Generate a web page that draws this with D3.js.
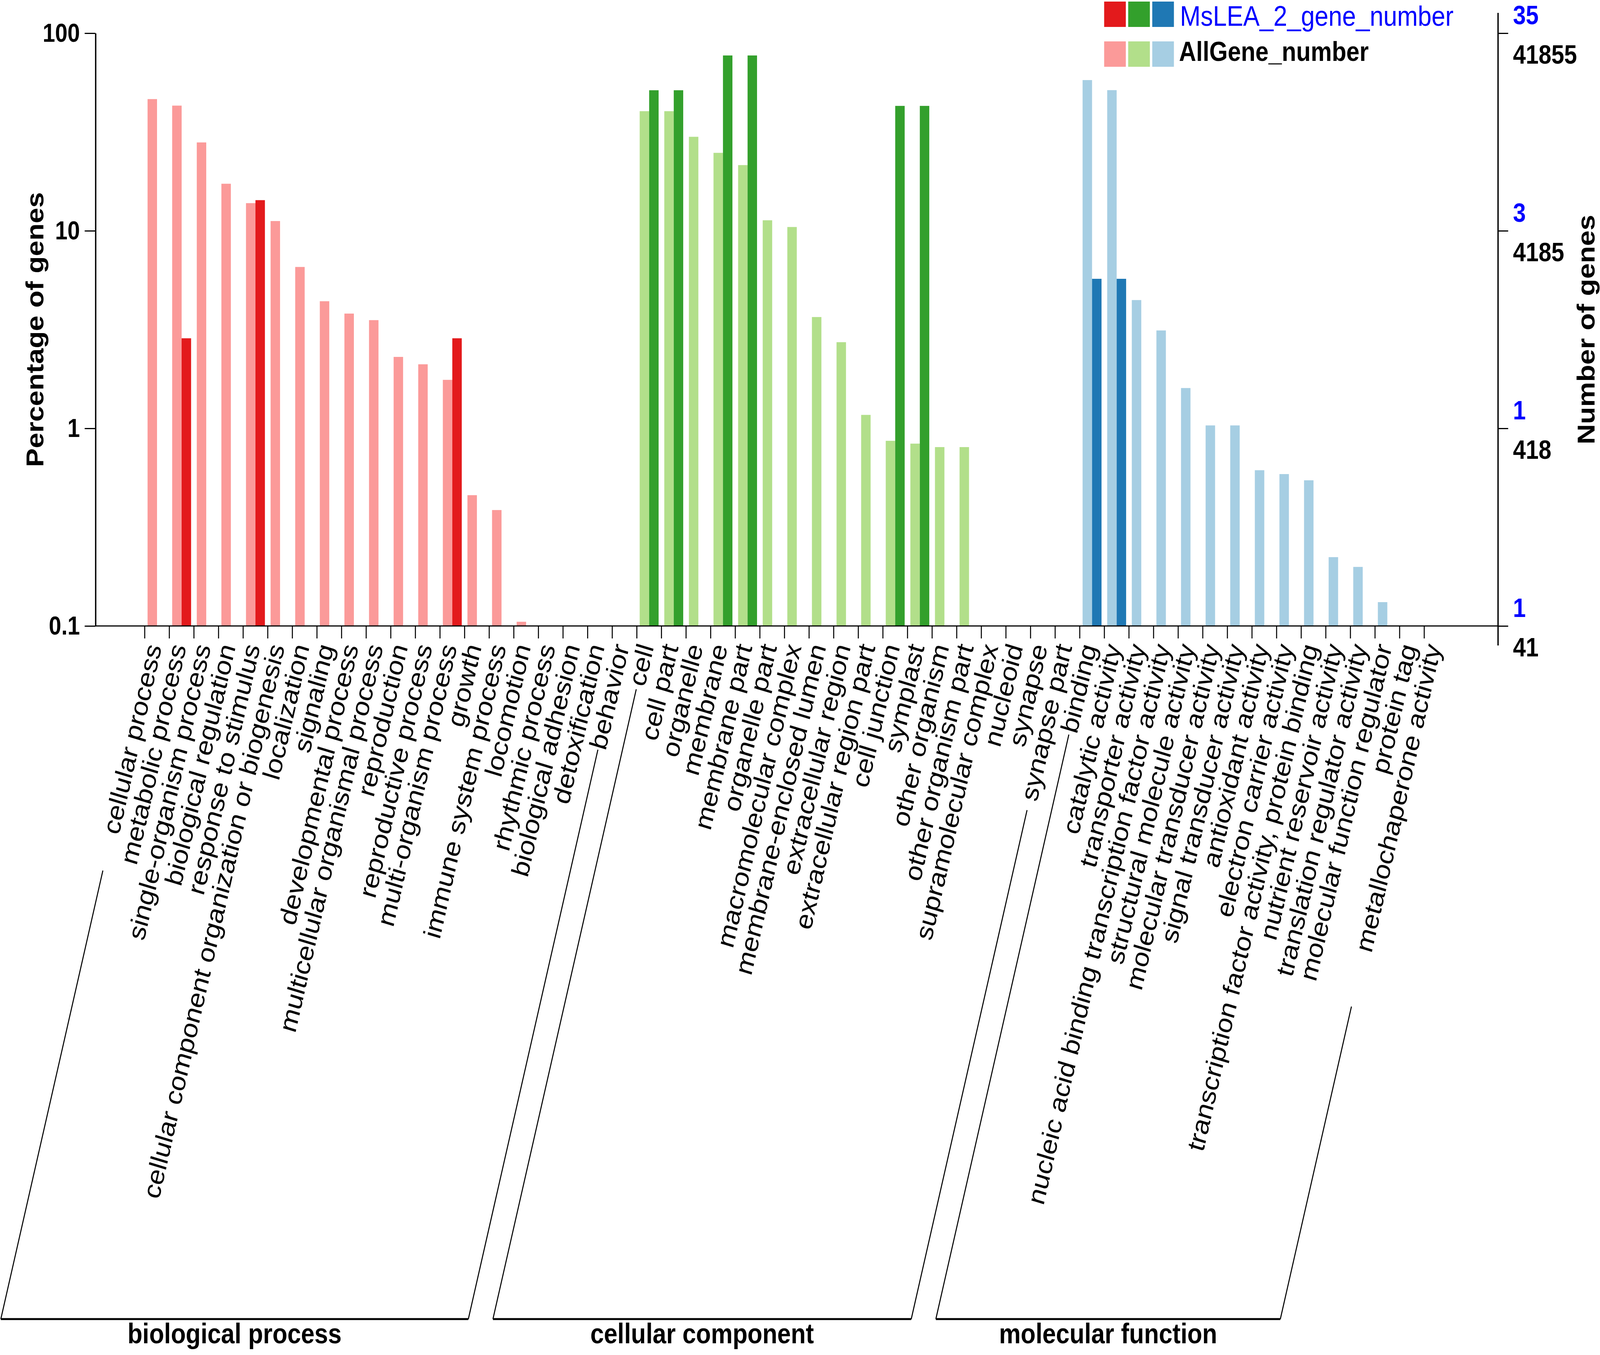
<!DOCTYPE html>
<html>
<head>
<meta charset="utf-8">
<script src="https://d3js.org/d3.v7.min.js"></script>
<style>
html, body { margin: 0; padding: 0; width: 100%; height: 100%; overflow: hidden; background: #fff; }
svg { display: block; }
text { font-family: "Liberation Sans", Arial, sans-serif; }
</style>
</head>
<body>
<svg id="chart" viewBox="0 0 4724 3470" preserveAspectRatio="none"></svg>
<script>
// GO terms, three ontologies
var bpTerms = ['cellular process', 'metabolic process', 'single-organism process', 'biological regulation',
    'response to stimulus', 'cellular component organization or biogenesis', 'localization', 'signaling',
    'developmental process', 'multicellular organismal process', 'reproduction', 'reproductive process',
    'multi-organism process', 'growth', 'immune system process', 'locomotion', 'rhythmic process',
    'biological adhesion', 'detoxification', 'behavior'];
var ccTerms = ['cell', 'cell part', 'organelle', 'membrane', 'membrane part', 'organelle part',
    'macromolecular complex', 'membrane-enclosed lumen', 'extracellular region', 'extracellular region part',
    'cell junction', 'symplast', 'other organism', 'other organism part', 'supramolecular complex',
    'nucleoid', 'synapse', 'synapse part'];
var mfTerms = ['binding', 'catalytic activity', 'transporter activity',
    'nucleic acid binding transcription factor activity', 'structural molecule activity',
    'molecular transducer activity', 'signal transducer activity', 'antioxidant activity',
    'electron carrier activity', 'transcription factor activity, protein binding',
    'nutrient reservoir activity', 'translation regulator activity', 'molecular function regulator',
    'protein tag', 'metallochaperone activity'];

// percentage of genes (0 = no bar)
var bpAll = [46.4, 43.0, 28.0, 17.3, 13.8, 11.2, 6.56, 4.40, 3.81, 3.53, 2.30, 2.11, 1.76, 0.459, 0.386, 0.105, 0, 0, 0, 0];
var bpLea = [0, 2.857, 0, 0, 14.29, 0, 0, 0, 0, 0, 0, 0, 2.857, 0, 0, 0, 0, 0, 0, 0];
var ccAll = [40.3, 40.3, 29.9, 24.8, 21.5, 11.3, 10.45, 3.66, 2.73, 1.17, 0.865, 0.837, 0.804, 0.804, 0, 0, 0, 0];
var ccLea = [51.43, 51.43, 0, 77.14, 77.14, 0, 0, 0, 0, 0, 42.86, 42.86, 0, 0, 0, 0, 0, 0];
var mfAll = [57.9, 51.5, 4.46, 3.13, 1.60, 1.035, 1.035, 0.614, 0.587, 0.546, 0.223, 0.199, 0.132, 0, 0];
var mfLea = [5.714, 5.714, 0, 0, 0, 0, 0, 0, 0, 0, 0, 0, 0, 0, 0];

var groupNames = ['biological process', 'cellular component', 'molecular function'];
var allColors = ['#fb9a99', '#b2df8a', '#a6cee3'];
var leaColors = ['#e31a1c', '#33a02c', '#1f78b4'];

var yTicks = [0.1, 1, 10, 100];
var leaTickLabels = ['1', '1', '3', '35'];
var allTickLabels = ['41', '418', '4185', '41855'];

// the window may be narrower than the chart, so stretch the viewBox over it
var svg = d3.select('#chart')
    .attr('width', window.innerWidth)
    .attr('height', window.innerHeight);
var plot = {l: 282, r: 4423, t: 85, b: 1603};

var groupTerms = [bpTerms, ccTerms, mfTerms];
var groupAll = [bpAll, ccAll, mfAll];
var groupLea = [bpLea, ccLea, mfLea];

var rows = [];
groupTerms.forEach(function(list, g) {
    list.forEach(function(t, i) {
        rows.push({term: t, group: g, all: groupAll[g][i], lea: groupLea[g][i]});
    });
});

var x = d3.scaleBand().domain(rows.map(function(d) { return d.term; }))
    .range([plot.l, plot.r]).paddingOuter(2);
var x1 = d3.scaleBand().domain(['all', 'lea']).range([0, x.bandwidth()]).paddingOuter(0.3);
var y = d3.scaleLog().domain([0.1, 100]).range([plot.b, plot.t]);

// bars
var barG = svg.append('g');
rows.forEach(function(d) {
    if (d.all > 0) {
        barG.append('rect')
            .attr('x', x(d.term) + x1('all'))
            .attr('y', y(d.all))
            .attr('width', x1.bandwidth())
            .attr('height', plot.b - y(d.all))
            .style('fill', allColors[d.group]);
    }
    if (d.lea > 0) {
        barG.append('rect')
            .attr('x', x(d.term) + x1('lea'))
            .attr('y', y(d.lea))
            .attr('width', x1.bandwidth())
            .attr('height', plot.b - y(d.lea))
            .style('fill', leaColors[d.group]);
    }
});

// left axis
var yAxis = d3.axisLeft(y).tickValues(yTicks).tickFormat(d3.format('~g'))
    .tickSize(32).tickSizeOuter(0).tickPadding(14);
var gl = svg.append('g').attr('transform', 'translate(' + plot.l + ',0)').call(yAxis);
gl.select('.domain').style('stroke-width', 4);
gl.selectAll('.tick line').style('stroke-width', 3);
gl.selectAll('.tick text').style('font-size', '66px').style('font-weight', 'bold')
    .style('font-family', '"Liberation Sans", Arial, sans-serif').attr('fill', '#000');

// right axis, two counts per tick
var yAxisR = d3.axisRight(y).tickValues(yTicks).tickFormat('').tickSize(30).tickSizeOuter(0);
var gr = svg.append('g').attr('transform', 'translate(' + plot.r + ',0)').call(yAxisR);
gr.select('.domain').attr('d', 'M0,' + (plot.t - 52) + 'V' + (plot.b + 50)).style('stroke-width', 4);
gr.selectAll('.tick line').style('stroke-width', 3);
gr.selectAll('.tick').each(function(v, i) {
    var t = d3.select(this);
    t.append('text').attr('x', 44).attr('y', -24).text(leaTickLabels[i])
        .style('font-size', '68px').style('font-weight', 'bold').attr('fill', '#0000ff');
    t.append('text').attr('x', 44).attr('y', 78).text(allTickLabels[i])
        .style('font-size', '68px').style('font-weight', 'bold').attr('fill', '#000');
});

// bottom axis
svg.append('line').attr('x1', plot.l).attr('x2', plot.r).attr('y1', plot.b).attr('y2', plot.b)
    .style('stroke', '#000').style('stroke-width', 3);
svg.append('g').selectAll('line').data(rows).enter().append('line')
    .attr('x1', function(d) { return x(d.term); })
    .attr('x2', function(d) { return x(d.term); })
    .attr('y1', plot.b).attr('y2', plot.b + 32)
    .style('stroke', '#000').style('stroke-width', 3);

// slanted category labels
var ang = 75.3 * Math.PI / 180;
var dir = [-Math.cos(ang), Math.sin(ang)];
var origY = plot.b + 17;
function along(d, t) {
    var cx = x(d.term) + x.bandwidth() / 2;
    return [cx + dir[0] * t, origY + dir[1] * t];
}
svg.append('g').selectAll('text').data(rows).enter().append('text')
    .attr('transform', function(d) { return 'translate(' + along(d, 32) + ') rotate(-75.3)'; })
    .attr('text-anchor', 'end')
    .attr('dy', '0.32em')
    .style('font-size', '72px')
    .text(function(d) { return d.term; });

// group brackets
var bottomY = 3378;
var tBottom = (bottomY - origY) / dir[1];
groupTerms.forEach(function(list, g) {
    var first = rows.filter(function(d) { return d.term === list[0]; })[0];
    var last = rows.filter(function(d) { return d.term === list[list.length - 1]; })[0];
    var a0 = along(first, 40 * first.term.length - 10), a1 = along(first, tBottom);
    var b0 = along(last, 40 * last.term.length - 10), b1 = along(last, tBottom);
    var br = svg.append('g').style('stroke', '#000').style('fill', 'none');
    br.append('line').attr('x1', a0[0]).attr('y1', a0[1]).attr('x2', a1[0]).attr('y2', a1[1]).style('stroke-width', 3);
    br.append('line').attr('x1', b0[0]).attr('y1', b0[1]).attr('x2', b1[0]).attr('y2', b1[1]).style('stroke-width', 3);
    br.append('line').attr('x1', a1[0]).attr('y1', bottomY).attr('x2', b1[0]).attr('y2', bottomY).style('stroke-width', 5);
    svg.append('text').attr('x', (a1[0] + b1[0]) / 2).attr('y', bottomY + 62)
        .attr('text-anchor', 'middle').style('font-size', '72px').style('font-weight', 'bold')
        .text(groupNames[g]);
});

// axis titles
svg.append('text').attr('transform', 'translate(103,' + (plot.t + plot.b) / 2 + ') rotate(-90)')
    .attr('text-anchor', 'middle').attr('dy', '0.35em')
    .style('font-size', '72px').style('font-weight', 'bold').text('Percentage of genes');
svg.append('text').attr('transform', 'translate(4683,' + (plot.t + plot.b) / 2 + ') rotate(-90)')
    .attr('text-anchor', 'middle').attr('dy', '0.35em')
    .style('font-size', '72px').style('font-weight', 'bold').text('Number of genes');

// legend
var legend = svg.append('g').attr('transform', 'translate(3260,4)');
leaColors.forEach(function(c, i) {
    legend.append('rect').attr('x', i * 71).attr('y', 0).attr('width', 64).attr('height', 65).style('fill', c);
});
allColors.forEach(function(c, i) {
    legend.append('rect').attr('x', i * 71).attr('y', 102).attr('width', 64).attr('height', 65).style('fill', c);
});
legend.append('text').attr('x', 224).attr('y', 62).text('MsLEA_2_gene_number')
    .style('font-size', '73px').attr('fill', '#0000ff');
legend.append('text').attr('x', 221).attr('y', 152).text('AllGene_number')
    .style('font-size', '70px').style('font-weight', 'bold').attr('fill', '#000');
</script>
</body>
</html>
